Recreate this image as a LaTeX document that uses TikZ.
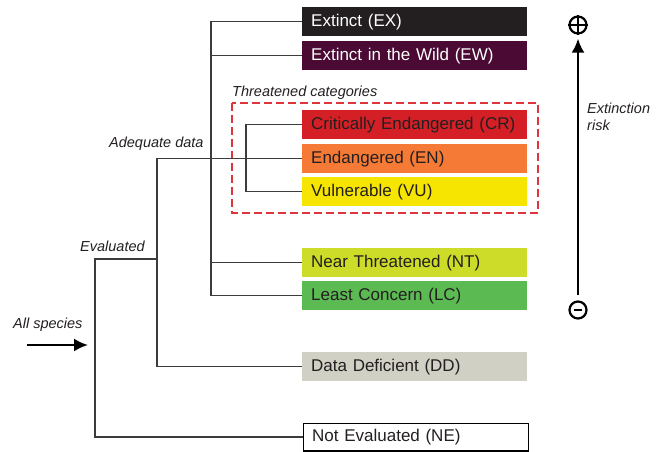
\documentclass[tikz,border=0pt]{standalone}
\usepackage{fontspec}
\setmainfont{Liberation Sans}
\usepackage{tikz}
\usetikzlibrary{arrows.meta}

\definecolor{exCol}{HTML}{231F20}
\definecolor{ewCol}{HTML}{4A0A33}
\definecolor{crCol}{HTML}{D41F26}
\definecolor{enCol}{HTML}{F47A35}
\definecolor{vuCol}{HTML}{F5E500}
\definecolor{ntCol}{HTML}{CDDC29}
\definecolor{lcCol}{HTML}{5CBA53}
\definecolor{ddCol}{HTML}{D0D0C4}
\definecolor{txtCol}{HTML}{231F20}
\definecolor{lineCol}{HTML}{3C3C3C}
\definecolor{dashCol}{HTML}{E0343C}

\tikzset{
    catbox/.style={anchor=north west, minimum height=29pt,
        text width=207pt, inner xsep=9pt, inner ysep=0pt, align=left,
        text=txtCol, font=\fontsize{17}{19}\selectfont},
    branch/.style={lineCol, line width=1.3pt},
    lbl/.style={anchor=west, inner sep=0pt, text=txtCol,
        font=\fontsize{14.5}{17}\selectfont\itshape},
    sign/.style={circle, draw=black, line width=2.2pt, minimum size=17pt, inner sep=0pt}
}

\begin{document}
\begin{tikzpicture}[x=1pt, y=-1pt]

        \useasboundingbox (0,0) rectangle (666,452);

        % category boxes
        \node[catbox, fill=exCol, text=white] (ex) at (302,7) {Extinct (EX)};
        \node[catbox, fill=ewCol, text=white] (ew) at (302,41) {Extinct in the Wild (EW)};
        \node[catbox, fill=crCol] (cr) at (302,110) {Critically Endangered (CR)};
        \node[catbox, fill=enCol] (en) at (302,144) {Endangered (EN)};
        \node[catbox, fill=vuCol] (vu) at (302,177) {Vulnerable (VU)};
        \node[catbox, fill=ntCol] (nt) at (302,248) {Near Threatened (NT)};
        \node[catbox, fill=lcCol] (lc) at (302,281) {Least Concern (LC)};
        \node[catbox, fill=ddCol] (dd) at (302,352) {Data Deficient (DD)};
        \node[catbox, draw=black, line width=1.2pt, minimum height=27.8pt] (ne) at (302.6,422.6) {Not Evaluated (NE)};

        \draw[dashCol, line width=1.2pt, dash pattern=on 8pt off 4pt]
            (232,103) rectangle (538,213);

        % branching
        \coordinate (kAdq) at (211,0);
        \coordinate (kDef) at (157,0);
        \coordinate (kThr) at (246,0);
        \coordinate (kEva) at (95,0);
        \coordinate (ev) at (157,259);

        \draw[branch]
            (ex.west) -| (kAdq |- lc.west) -- (lc.west)
            (ew.west) -- (ew.west -| kAdq)
            (nt.west) -- (nt.west -| kAdq);

        \draw[branch]
            (cr.west) -| (kThr |- vu.west) -- (vu.west);

        \draw[branch]
            (en.west) -| (kDef |- dd.west) -- (dd.west);

        \draw[branch]
            (ne.west) -| (kEva |- ev) -- (ev);

        \node[lbl] (thr) at (232,93) {Threatened categories};
        \node[lbl] (adq) at (109,144) {Adequate data};
        \node[lbl] (eva) at (80,246) {Evaluated};
        \node[lbl] (all) at (13,325) {All species};

        \coordinate (allS) at (27,345);
        \coordinate (allE) at (88,345);
        \draw[line width=2.2pt, -{Latex[length=14pt, width=13pt]}]
            (allS) -- (allE);

        % extinction risk
        \node[sign] (plus) at (578,25) {};
        \node[sign] (minus) at (578,310) {};
        \draw[line width=2.2pt] (plus.west) -- (plus.east) (plus.north) -- (plus.south);
        \draw[line width=2.8pt] ([xshift=-4pt]minus.center) -- ([xshift=4pt]minus.center);

        \draw[line width=2.4pt, -{Latex[length=14pt, width=13pt]}, shorten <=5pt, shorten >=4pt]
            (minus.north) -- (plus.south);

        \node[lbl, align=left] (risk) at (587,117) {Extinction\\risk};

\end{tikzpicture}
\end{document}
